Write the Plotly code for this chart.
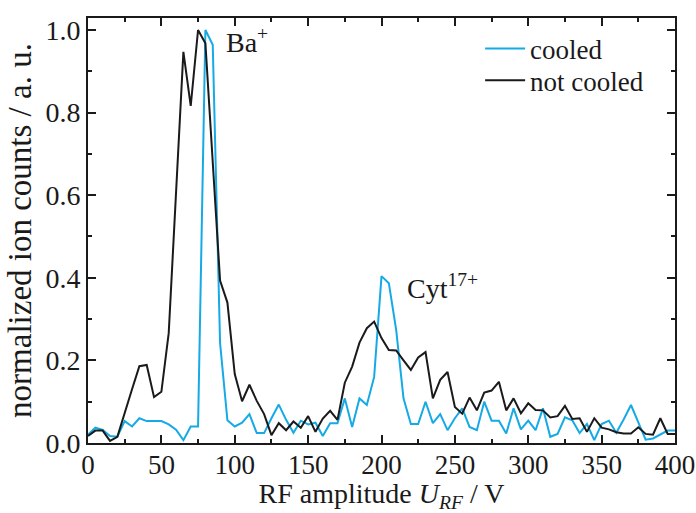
import plotly.graph_objects as go

voltage = list(range(0, 405, 5))

cooled = [0.020, 0.037, 0.032, 0.017, 0.015, 0.053, 0.040, 0.060, 0.053, 0.053,
          0.053, 0.045, 0.032, 0.007, 0.040, 0.040, 1.000, 0.964, 0.242, 0.055,
          0.040, 0.049, 0.070, 0.024, 0.024, 0.060, 0.093, 0.056, 0.025, 0.054,
          0.045, 0.049, 0.017, 0.048, 0.048, 0.108, 0.039, 0.108, 0.092, 0.160,
          0.404, 0.387, 0.274, 0.108, 0.046, 0.046, 0.100, 0.048, 0.070, 0.031,
          0.060, 0.084, 0.039, 0.031, 0.100, 0.054, 0.054, 0.023, 0.084, 0.033,
          0.054, 0.031, 0.084, 0.015, 0.022, 0.062, 0.055, 0.024, 0.046, 0.007,
          0.046, 0.054, 0.025, 0.057, 0.092, 0.050, 0.008, 0.011, 0.020, 0.030,
          0.030]

not_cooled = [0.017, 0.030, 0.030, 0.005, 0.015, 0.070, 0.130, 0.186, 0.189, 0.111,
              0.124, 0.266, 0.600, 0.947, 0.816, 1.000, 0.968, 0.680, 0.393, 0.340,
              0.167, 0.101, 0.141, 0.102, 0.070, 0.019, 0.048, 0.031, 0.052, 0.037,
              0.065, 0.027, 0.059, 0.078, 0.056, 0.146, 0.185, 0.243, 0.278, 0.294,
              0.254, 0.225, 0.224, 0.200, 0.177, 0.207, 0.220, 0.108, 0.153, 0.172,
              0.087, 0.071, 0.110, 0.079, 0.122, 0.127, 0.148, 0.079, 0.108, 0.072,
              0.096, 0.080, 0.079, 0.062, 0.065, 0.090, 0.058, 0.060, 0.027, 0.060,
              0.037, 0.033, 0.026, 0.023, 0.023, 0.038, 0.022, 0.020, 0.060, 0.022,
              0.022]

series_names = ["cooled", "not cooled"]
peak_labels = ["Ba<sup>+</sup>", "Cyt<sup>17+</sup>"]
peak_pos_x = [93, 216]
peak_pos_y = [0.975, 0.38]

FONT = "Liberation Serif, Times New Roman, serif"
CYAN = "#15aae6"
BLACK = "#1a1a1a"

fig = go.Figure()
fig.add_trace(go.Scatter(x=voltage, y=cooled, mode="lines", name=series_names[0],
                         line=dict(color=CYAN, width=2), legend="legend"))
fig.add_trace(go.Scatter(x=voltage, y=not_cooled, mode="lines", name=series_names[1],
                         line=dict(color=BLACK, width=2), legend="legend2"))

for txt, px, py in zip(peak_labels, peak_pos_x, peak_pos_y):
    fig.add_annotation(x=px, y=py, text=txt, showarrow=False, xanchor="left",
                       yanchor="middle", font=dict(family=FONT, size=28, color=BLACK))

axis_common = dict(
    showgrid=False, zeroline=False, showline=True, linecolor=BLACK, linewidth=2,
    mirror="allticks", ticks="inside", ticklen=8, tickwidth=2, tickcolor=BLACK,
    automargin=False,
)

fig.update_xaxes(range=[0, 400], dtick=50, tick0=0,
                 tickfont=dict(family=FONT, size=27, color=BLACK),
                 minor=dict(dtick=25, ticks="inside", ticklen=4, tickwidth=2, tickcolor=BLACK),
                 title=dict(text="RF amplitude <i>U</i><sub><i>RF</i></sub> / V",
                            font=dict(family=FONT, size=28, color=BLACK), standoff=6),
                 ticklabelstandoff=-3,
                 **axis_common)
fig.update_yaxes(range=[0, 1.029], dtick=0.2, tick0=0, tickformat=".1f",
                 tickfont=dict(family=FONT, size=28, color=BLACK),
                 minor=dict(dtick=0.1, ticks="inside", ticklen=4, tickwidth=2, tickcolor=BLACK),
                 title=dict(text="normalized ion counts / a. u.",
                            font=dict(family=FONT, size=33, color=BLACK), standoff=4),
                 **axis_common)

leg_common = dict(xanchor="left", yanchor="top",
                  font=dict(family=FONT, size=27, color=BLACK),
                  bgcolor="rgba(0,0,0,0)", itemwidth=40)

fig.update_layout(
    width=696, height=513,
    margin=dict(l=88, r=21, t=18, b=70),
    plot_bgcolor="white", paper_bgcolor="white",
    showlegend=True,
    legend=dict(x=0.668, y=0.985, **leg_common),
    legend2=dict(x=0.668, y=0.910, **leg_common),
)

fig.write_html("out.html")
